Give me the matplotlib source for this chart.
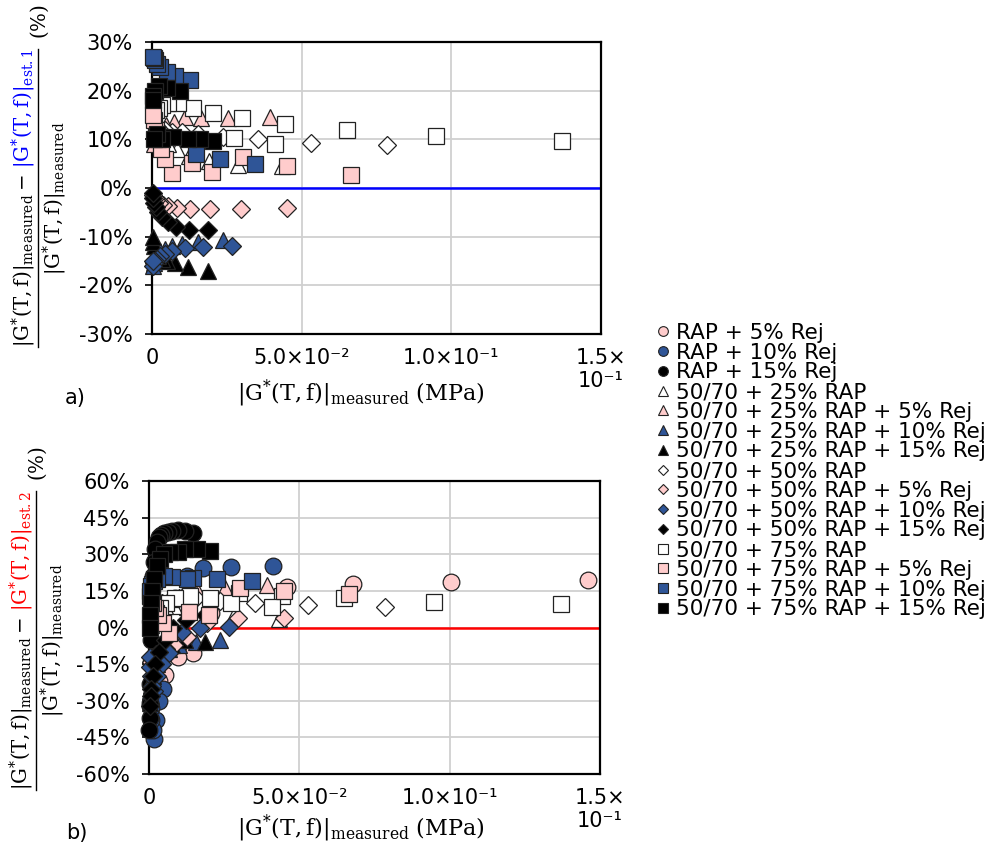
import matplotlib
matplotlib.use('Agg')
import matplotlib.pyplot as plt
from matplotlib.lines import Line2D

plt.rcParams['font.family'] = ['DejaVu Sans']
plt.rcParams['mathtext.fontset'] = 'dejavuserif'

# ---- data: x = |G*| measured (MPa), t = error est.1 (%), b = error est.2 (%)
labels = ['RAP + 5% Rej', 'RAP + 10% Rej', 'RAP + 15% Rej',
          '50/70 + 25% RAP', '50/70 + 25% RAP + 5% Rej', '50/70 + 25% RAP + 10% Rej',
          '50/70 + 25% RAP + 15% Rej', '50/70 + 50% RAP', '50/70 + 50% RAP + 5% Rej',
          '50/70 + 50% RAP + 10% Rej', '50/70 + 50% RAP + 15% Rej', '50/70 + 75% RAP',
          '50/70 + 75% RAP + 5% Rej', '50/70 + 75% RAP + 10% Rej', '50/70 + 75% RAP + 15% Rej']

x1 = [0.146, 0.1004, 0.068, 0.046, 0.030, 0.0205, 0.0146, 0.0095, 0.0053, 0.0032, 0.0019, 0.0011, 0.0006, 0.0003]
b1 = [19.5, 18.6, 17.8, 16.6, 14.5, 6.0, -10.5, -12.0, -19.5, -22.0, -24.0, -27.0, -30.0, -32.0]

x2 = [0.0413, 0.0273, 0.018, 0.0125, 0.0085, 0.0062, 0.0047, 0.0033, 0.0024, 0.0017, 0.0012, 0.0008, 0.0005]
b2 = [25.2, 24.8, 24.4, 21.0, 12.0, -8.0, -25.2, -30.0, -38.0, -45.6, -42.0, -38.0, -33.0]

x3 = [0.0146, 0.012, 0.0096, 0.0078, 0.0062, 0.005, 0.004, 0.0032, 0.0025, 0.002,
      0.0016, 0.0013, 0.001, 0.0008, 0.0006, 0.0005, 0.0004, 0.0003, 0.0002, 0.00012]
b3 = [38.7, 39.5, 40.0, 39.5, 39.0, 38.5, 38.0, 37.0, 35.0, 32.0,
      27.0, 21.0, 13.0, 5.0, -5.0, -14.0, -23.0, -31.0, -37.0, -42.0]

x4 = [0.0434, 0.0287, 0.019, 0.0125, 0.0082, 0.0053, 0.0034, 0.0021, 0.0013, 0.0008]
t4 = [4.5, 4.7, 5.5, 6.5, 8.0, 9.0, 10.0, 10.5, 11.0, 11.5]
b4 = [3.5, 6.0, 7.5, 8.5, 9.0, 9.0, 8.0, 6.0, 4.0, 2.0]

x5 = [0.0394, 0.0254, 0.0164, 0.011, 0.0072, 0.0046, 0.0029, 0.0018, 0.0011, 0.0007]
t5 = [14.6, 14.3, 14.3, 14.6, 13.5, 13.0, 12.0, 11.0, 10.0, 9.0]
b5 = [17.4, 16.0, 14.5, 13.0, 11.5, 10.0, 8.0, 6.0, 3.5, 1.0]

x6 = [0.0237, 0.0155, 0.0101, 0.0066, 0.0042, 0.0027, 0.0017, 0.0011, 0.0007, 0.0004]
t6 = [-10.7, -11.0, -11.5, -12.0, -12.5, -13.0, -14.0, -15.0, -15.5, -16.0]
b6 = [-5.1, -5.9, -7.0, -9.0, -12.0, -15.0, -18.0, -21.0, -24.0, -26.0]

x7 = [0.0187, 0.012, 0.0078, 0.005, 0.0032, 0.002, 0.0013, 0.0008, 0.0005, 0.0003]
t7 = [-17.0, -16.2, -15.5, -15.0, -14.5, -14.0, -13.0, -12.0, -11.0, -10.0]
b7 = [-6.0, -5.0, -7.0, -9.0, -12.0, -16.0, -20.0, -24.0, -28.0, -31.0]

x8 = [0.0785, 0.053, 0.0354, 0.0237, 0.0155, 0.0101, 0.0066, 0.0043, 0.0028, 0.0018]
t8 = [8.8, 9.3, 10.1, 10.5, 11.0, 11.5, 11.5, 12.0, 12.0, 12.5]
b8 = [8.4, 9.2, 10.0, 11.0, 12.0, 12.0, 11.0, 10.0, 9.0, 8.0]

x9 = [0.045, 0.0297, 0.0194, 0.0127, 0.0083, 0.0055, 0.0036, 0.0023, 0.0015, 0.0009, 0.0005]
t9 = [-4.2, -4.3, -4.4, -4.3, -4.1, -3.8, -3.5, -3.0, -2.5, -2.0, -1.5]
b9 = [3.9, 3.9, 2.0, -3.9, -7.0, -9.0, -10.0, -11.0, -12.0, -13.0, -14.0]

x10 = [0.0267, 0.0171, 0.011, 0.0067, 0.0043, 0.0027, 0.0017, 0.0011, 0.0007, 0.0004, 0.0002]
t10 = [-11.9, -12.1, -12.4, -12.9, -13.5, -14.0, -14.5, -15.0, -15.5, -16.0, -15.0]
b10 = [0.2, -0.2, -1.8, -10.5, -15.0, -20.0, -26.0, -24.0, -20.0, -16.0, -12.0]

x11 = [0.0187, 0.0124, 0.008, 0.0052, 0.0033, 0.0021, 0.0013, 0.0008, 0.0005, 0.0003]
t11 = [-8.6, -8.7, -8.0, -7.0, -6.0, -5.0, -4.0, -3.0, -2.0, -1.0]
b11 = [5.0, 3.0, 0.0, -5.0, -10.0, -15.0, -20.0, -25.0, -28.0, -32.0]

x12 = [0.137, 0.0949, 0.065, 0.0444, 0.041, 0.030, 0.0274, 0.0204, 0.0137, 0.0087, 0.0055, 0.0035, 0.0022, 0.0013]
t12 = [9.7, 10.7, 11.9, 13.1, 9.0, 14.4, 10.2, 15.4, 16.4, 17.4, 17.5, 17.0, 16.5, 16.0]
b12 = [9.6, 10.5, 12.1, 13.0, 8.4, 14.0, 10.0, 12.0, 13.0, 12.0, 10.0, 8.0, 6.0, 4.0]

x13 = [0.0665, 0.045, 0.0304, 0.020, 0.0134, 0.0067, 0.0045, 0.003, 0.002, 0.0012, 0.0007, 0.0004]
t13 = [2.7, 4.5, 6.4, 3.3, 5.1, 3.0, 6.0, 8.0, 10.0, 12.0, 14.0, 15.0]
b13 = [13.7, 15.0, 16.2, 5.1, 6.4, -2.3, 2.0, 5.0, 8.0, 10.0, 12.0, 13.0]

x14 = [0.0344, 0.0227, 0.0147, 0.0127, 0.0077, 0.005, 0.0027, 0.0016, 0.001, 0.0006, 0.0003]
t14 = [4.9, 5.9, 6.9, 22.2, 23.0, 23.8, 24.8, 25.5, 26.3, 26.8, 27.0]
b14 = [19.1, 19.8, 20.3, 20.0, 20.5, 21.0, 20.0, 19.0, 18.0, 17.0, 15.0]

x15 = [0.0204, 0.016, 0.012, 0.0095, 0.007, 0.005, 0.0035, 0.0025, 0.0017, 0.0011, 0.0007, 0.0004, 0.0002]
t15 = [9.6, 10.0, 10.0, 20.0, 10.5, 20.5, 10.0, 21.0, 11.0, 20.0, 10.0, 19.0, 18.0]
b15 = [31.4, 32.0, 32.0, 31.0, 31.0, 30.0, 28.0, 25.0, 20.0, 15.0, 10.0, 5.0, 0.0]

xs = [x1, x2, x3, x4, x5, x6, x7, x8, x9, x10, x11, x12, x13, x14, x15]
tops = [None, None, None, t4, t5, t6, t7, t8, t9, t10, t11, t12, t13, t14, t15]
bots = [b1, b2, b3, b4, b5, b6, b7, b8, b9, b10, b11, b12, b13, b14, b15]

PINK = '#FFCCCC'
BLUE = '#2F5597'
fills = [PINK, BLUE, 'black', 'white', PINK, BLUE, 'black', 'white', PINK, BLUE, 'black',
         'white', PINK, BLUE, 'black']
markers = ['o'] * 3 + ['^'] * 4 + ['D'] * 4 + ['s'] * 4
msizes = {'o': 12, '^': 12, 'D': 9.5, 's': 11.5}

W, H = 1001, 850
fig = plt.figure(figsize=(W / 100, H / 100), dpi=100)


def box(l, t, r, b):
    return [l / W, 1 - b / H, (r - l) / W, (b - t) / H]


ax1 = fig.add_axes(box(152, 42, 601, 334))
ax2 = fig.add_axes(box(149, 481, 600, 774))

xtick_labels = ['0', '5.0×10⁻²', '1.0×10⁻¹', '1.5×\n10⁻¹']
xlab = r'$|\mathrm{G}^{*}(\mathrm{T,f})|_{\mathrm{measured}}\ (\mathrm{MPa})$'

for ax, ys, ymax, step, zc in [(ax1, tops, 30, 10, 'blue'), (ax2, bots, 60, 15, 'red')]:
    for x, y, f, m in zip(xs, ys, fills, markers):
        if y is None:
            continue
        ax.plot(x, y, ls='none', marker=m, ms=msizes[m], mfc=f, mec='#222222',
                mew=0.9, zorder=3, clip_on=False)
    ax.axhline(0, color=zc, lw=1.8, zorder=2.5)
    ax.set_xlim(0, 0.15)
    ax.set_ylim(-ymax, ymax)
    ax.set_xticks([0, 0.05, 0.1, 0.15])
    ax.set_xticklabels(xtick_labels, fontsize=15)
    yt = list(range(-ymax, ymax + 1, step))
    ax.set_yticks(yt)
    ax.set_yticklabels([f'{v}%' for v in yt], fontsize=15)
    ax.tick_params(axis='x', length=0, pad=10)
    ax.tick_params(axis='y', direction='out', length=5, width=1.2, pad=9)
    ax.grid(True, color='#d0d0d0', lw=1.3, zorder=0)
    ax.set_axisbelow(True)
    for s in ax.spines.values():
        s.set_linewidth(1.6)
        s.set_color('black')
    ax.set_xlabel(xlab, fontsize=16)

ax1.xaxis.set_label_coords((361 - 152) / 449, -(393 - 334) / 292, transform=ax1.transAxes)
ax2.xaxis.set_label_coords((361 - 149) / 451, -(828 - 774) / 293, transform=ax2.transAxes)
ax1.xaxis.label.set_va('center')
ax2.xaxis.label.set_va('center')

fig.text(75 / W, 1 - 398 / H, 'a)', fontsize=15, ha='center', va='center')
fig.text(77 / W, 1 - 833 / H, 'b)', fontsize=15, ha='center', va='center')

# ---- fraction-style y labels with coloured estimate term
r = fig.canvas.get_renderer()
num_a = r'$|\mathrm{G}^{*}(\mathrm{T,f})|_{\mathrm{measured}} -$'
den = r'$|\mathrm{G}^{*}(\mathrm{T,f})|_{\mathrm{measured}}$'


def frac_label(x_num, x_line, x_den, y_bot, est, color):
    fs = 14.2
    t1 = fig.text(x_num / W, 1 - y_bot / H, num_a, rotation=90, ha='center', va='bottom', fontsize=fs)
    bb1 = t1.get_window_extent(r)
    t2 = fig.text(x_num / W, (bb1.y1 + 6) / H, r'$|\mathrm{G}^{*}(\mathrm{T,f})|_{\mathrm{%s}}$' % est,
                  rotation=90, ha='center', va='bottom', fontsize=fs, color=color)
    bb2 = t2.get_window_extent(r)
    y0, y1 = 1 - y_bot / H, bb2.y1 / H
    fig.add_artist(Line2D([x_line / W, x_line / W], [y0, y1], color='black', lw=1.0))
    fig.text(x_den / W, (y0 + y1) / 2, den, rotation=90, ha='center', va='center', fontsize=fs)
    fig.text(x_line / W + 2 / W, y1 + 10 / H, r'$(\%)$', rotation=90, ha='center', va='bottom',
             fontsize=fs)


frac_label(24, 38, 55, 347, 'est.1', 'blue')
frac_label(22, 36, 53, 790, 'est.2', 'red')

# ---- legend
handles = [Line2D([], [], ls='none', marker=m, ms=7 if m != 'D' else 5.5, mfc=f, mec='#222222', mew=0.8)
           for m, f in zip(markers, fills)]
fig.legend(handles, labels, loc='upper left', bbox_to_anchor=(657 / W, 1 - 323 / H),
           frameon=False, fontsize=15.5, handlelength=0.6, handletextpad=0.3,
           labelspacing=-0.012, borderpad=0, borderaxespad=0)

fig.savefig('out.png', dpi=100)
